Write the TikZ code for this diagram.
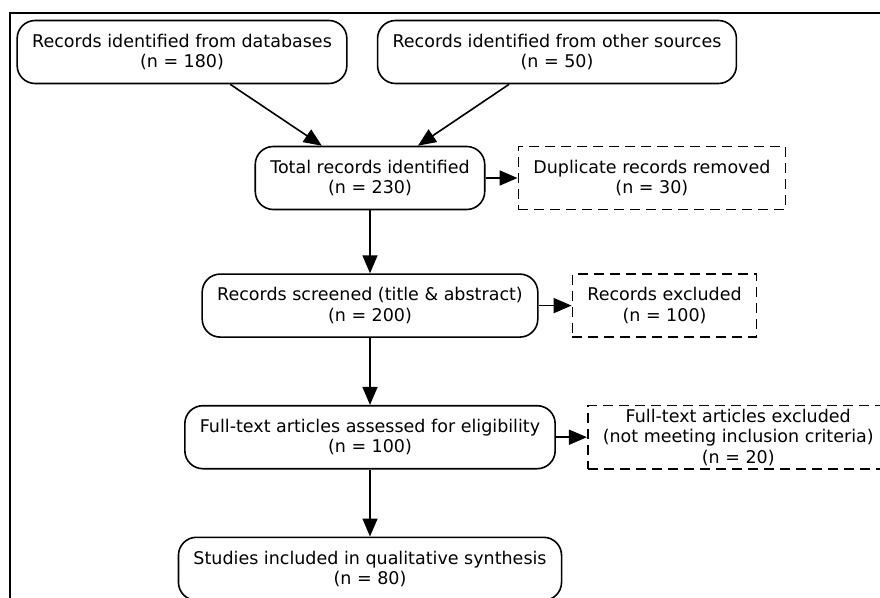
\documentclass[tikz,border=0pt]{standalone}
\usepackage{fontspec}
\setmainfont{DejaVu Sans}
\usetikzlibrary{arrows.meta,positioning}

\begin{document}
\begin{tikzpicture}[x=1pt, y=-1pt,
  box/.style={draw, line width=1.6pt, rounded corners=18pt, align=center, minimum height=63pt, inner xsep=15pt, font=\fontsize{17.5}{20.5}\selectfont},
  dbox/.style={box, sharp corners, dash pattern=on 10pt off 6pt},
  arr/.style={-{Triangle[length=18pt, width=15pt]}, line width=1.6pt}
]
\useasboundingbox (0,0) rectangle (880,597);
\clip (0,0) rectangle (880,597);
\draw[line width=2pt] (10,630) -- (10,13) -- (900,13);
\node[box] (db) at (182,52) {Records identified from databases\\(n = 180)};
\node[box] (other) at (557,52) {Records identified from other sources\\(n = 50)};
\node[box] (total) at (370,178) {Total records identified\\(n = 230)};
\node[dbox, right=32pt of total] (dup) {Duplicate records removed\\(n = 30)};
\node[box, below=63pt of total] (scr) {Records screened (title \& abstract)\\(n = 200)};
\node[dbox, right=33pt of scr] (excl) {Records excluded\\(n = 100)};
\node[box, below=67pt of scr] (full) {Full-text articles assessed for eligibility\\(n = 100)};
\node[dbox, right=31pt of full] (fexcl) {Full-text articles excluded\\(not meeting inclusion criteria)\\(n = 20)};
\node[box, below=67pt of full] (incl) {Studies included in qualitative synthesis\\(n = 80)};
\draw[arr] (db) -- (total);
\draw[arr] (other) -- (total);
\draw[arr] (total) -- (dup);
\draw[arr] (total) -- (scr);
\draw[arr] (scr) -- (excl);
\draw[arr] (scr) -- (full);
\draw[arr] (full) -- (fexcl);
\draw[arr] (full) -- (incl);
\end{tikzpicture}
\end{document}
